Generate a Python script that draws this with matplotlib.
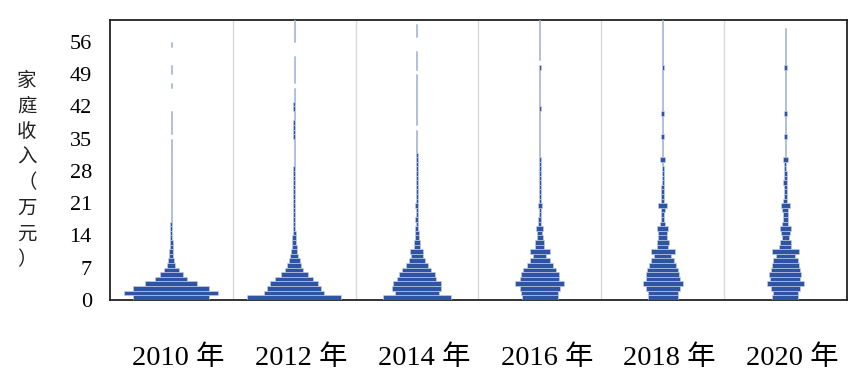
import numpy as np
import matplotlib.pyplot as plt
import matplotlib.transforms as mtransforms

# income bins of 1 (10k yuan), share of households in each bin (%)
years = ['2010 年', '2012 年', '2014 年', '2016 年', '2018 年', '2020 年']
bins = np.arange(61)

inc_2010 = [17.5, 21.6, 17.5, 12.0, 7.4, 5.3, 3.4, 1.8, 1.4, 1.0, 0.85,
            0.7, 0.6, 0.5, 0.45, 0.4, 0.37, 0.35, 0.32, 0.3, 0.28, 0.27,
            0.25, 0.25, 0.22, 0.22, 0.2, 0.2, 0.2, 0.2, 0.2, 0.18, 0.18, 0.18, 0.18,
            0, 0.15, 0.15, 0.15, 0.15, 0.15, 0, 0, 0, 0, 0,
            0.12, 0, 0, 0.12, 0.12, 0, 0, 0, 0, 0.12, 0, 0, 0, 0, 0]
inc_2012 = [21.6, 13.8, 12.6, 11.0, 8.7, 6.2, 4.1, 3.1, 2.5, 1.8, 1.5,
            1.15, 1.0, 0.76, 0.69, 0.62, 0.57, 0.5, 0.46, 0.41, 0.39, 0.37,
            0.35, 0.33, 0.32, 0.3, 0.3, 0.28, 0.28, 0.27, 0.26, 0.25, 0.25, 0.25, 0.25,
            0.45, 0.4, 0.45, 0.4, 0.25, 0.25, 0.4, 0.35, 0.2, 0.2, 0.2,
            0, 0.2, 0.2, 0.2, 0.2, 0.2, 0.2, 0, 0, 0, 0.2, 0.2, 0.2, 0.2, 0.2]
inc_2014 = [15.6, 10.1, 11.3, 11.0, 9.0, 8.3, 6.7, 5.1, 3.8, 2.6, 3.0,
            1.3, 1.4, 0.9, 0.76, 0.69, 0.57, 0.69, 0.46, 0.57, 0.69, 0.35,
            0.3, 0.3, 0.3, 0.3, 0.3, 0.3, 0.3, 0.45, 0.3, 0.3, 0.25, 0.25, 0.25, 0.25, 0.25,
            0, 0.2, 0.2, 0.2, 0.2, 0.2, 0.2, 0.2, 0.2, 0.2, 0.2, 0.2,
            0, 0.2, 0.2, 0.2, 0.2, 0, 0, 0, 0.2, 0.2, 0.2, 0]
inc_2016 = [8.3, 8.5, 9.2, 11.3, 9.0, 8.7, 7.6, 6.0, 4.6, 3.0, 4.6,
            2.1, 2.1, 1.4, 1.15, 1.6, 0.7, 0.62, 0.53, 0.53, 0.85, 0.57,
            0.5, 0.45, 0.4, 0.4, 0.35, 0.35, 0.35, 0.35, 0.5,
            0.3, 0.3, 0.3, 0.3, 0.3, 0.3, 0.3, 0.3, 0.3, 0.3, 0.4,
            0.3, 0.3, 0.3, 0.3, 0.3, 0.3, 0.3, 0.3, 0.4, 0,
            0.3, 0.3, 0.3, 0.3, 0.3, 0.3, 0.3, 0.3, 0.3]
inc_2018 = [6.9, 6.9, 7.8, 9.2, 7.8, 7.6, 7.1, 6.4, 5.3, 3.9, 5.5,
            2.5, 2.8, 2.0, 2.1, 2.5, 1.0, 0.85, 0.85, 0.9, 2.0, 0.7,
            0.7, 0.6, 0.55, 0.5, 0.5, 0.45, 0.45, 0.4, 1.0,
            0.35, 0.35, 0.35, 0.35, 0.6, 0.3, 0.3, 0.3, 0.3, 0.6,
            0.3, 0.3, 0.3, 0.3, 0.3, 0.3, 0.3, 0.3, 0.3, 0.5,
            0.3, 0.3, 0.3, 0.3, 0.3, 0.3, 0.3, 0.3, 0.3, 0.3]
inc_2020 = [6.0, 5.7, 6.7, 8.5, 6.9, 7.4, 6.7, 6.1, 5.9, 4.3, 6.1,
            2.8, 2.5, 1.8, 2.2, 2.6, 1.4, 1.0, 1.0, 1.4, 2.1, 0.9,
            0.7, 0.6, 0.6, 0.9, 0.5, 0.5, 0.45, 0.45, 1.1,
            0.35, 0.35, 0.35, 0.35, 0.6, 0.3, 0.3, 0.3, 0.3, 0.6,
            0.3, 0.3, 0.3, 0.3, 0.3, 0.3, 0.3, 0.3, 0.3, 0.5,
            0.3, 0.3, 0.3, 0.3, 0.3, 0.3, 0.3, 0.3, 0, 0]

series = [inc_2010, inc_2012, inc_2014, inc_2016, inc_2018, inc_2020]
yticks = np.arange(0, 57, 7)

fig = plt.figure(figsize=(8.65, 3.83), dpi=100)
ax = fig.add_axes([0.127, 0.217, 0.852, 0.731])

for i, vals in enumerate(series):
    vals = np.array(vals)
    keep = vals > 0
    w = vals[keep] / 28.3          # one panel = 28.3 %
    ax.barh(bins[keep] + 0.5, w, height=1, left=i - w / 2,
            color='#2f54a3', edgecolor='#c9d3ea', linewidth=0.4, zorder=3)

for x in np.arange(0.5, 5.5, 1):
    ax.axvline(x, color='#dadada', lw=1, zorder=1)

ax.set_xlim(-0.5, 5.5)
ax.set_ylim(0, 60.8)
ax.set_yticks(yticks)
ax.set_yticklabels([str(v) for v in yticks], family='Liberation Serif', fontsize=16)
ax.set_xticks(range(6))
ax.set_xticklabels(years, family=['Liberation Serif', 'Noto Sans CJK SC'], fontsize=20.5)
ax.tick_params(axis='y', length=0, pad=13)
ax.tick_params(axis='x', length=0, pad=33)
shift = mtransforms.ScaledTranslation(0.07, 0, fig.dpi_scale_trans)
for lab in ax.get_xticklabels():
    lab.set_transform(lab.get_transform() + shift)
for s in ax.spines.values():
    s.set_color('#222222')
    s.set_linewidth(1.3)

fig.text(0.031, 0.556, '家\n庭\n收\n入\n（\n万\n元\n）', family='Noto Sans CJK SC',
         fontsize=14, color='#222222', ha='center', va='center', linespacing=1.28)

fig.savefig('out.png', dpi=100)
